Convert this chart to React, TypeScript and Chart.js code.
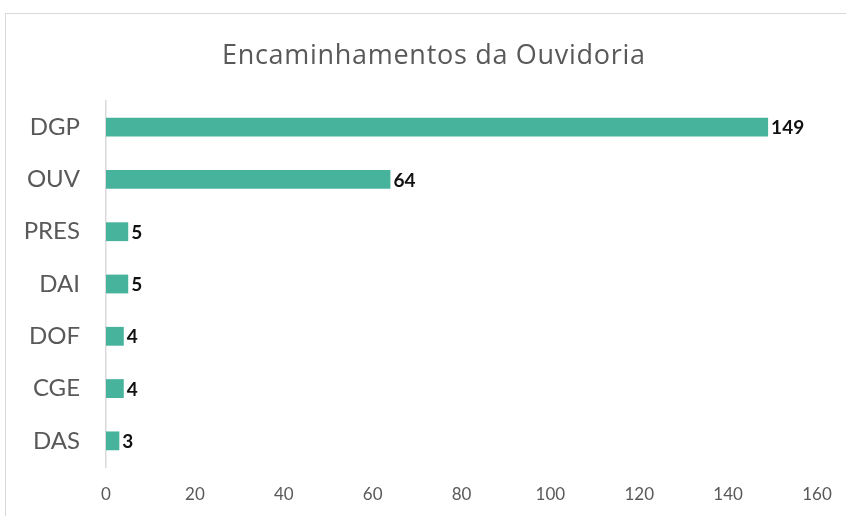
import React, { useEffect, useRef } from "react";
import { Chart, registerables } from "chart.js";

Chart.register(...registerables);

const categories = ["DGP", "OUV", "PRES", "DAI", "DOF", "CGE", "DAS"];
const values = [149, 64, 5, 5, 4, 4, 3];
const xTicks = [0, 20, 40, 60, 80, 100, 120, 140, 160];
const titleText = "Encaminhamentos da Ouvidoria";

const FONT = "Lato, 'Open Sans', sans-serif";
const TITLE_FONT = "'Open Sans', Lato, sans-serif";

const labelPlugin = {
  id: "barLabels",
  afterDatasetsDraw(chart: any) {
    const ctx = chart.ctx;
    const meta = chart.getDatasetMeta(0);
    ctx.save();
    ctx.font = `bold 19px ${FONT}`;
    ctx.fillStyle = "#111";
    ctx.textAlign = "left";
    ctx.textBaseline = "middle";
    meta.data.forEach((el: any, i: number) => {
      ctx.fillText(String(values[i]), el.x + 3, el.y + 1);
    });
    ctx.restore();
  },
};

const titlePlugin = {
  id: "customTitle",
  afterDraw(chart: any) {
    const ctx = chart.ctx;
    ctx.save();
    ctx.font = `27px ${TITLE_FONT}`;
    ctx.fillStyle = "#595959";
    ctx.textBaseline = "alphabetic";
    ctx.textAlign = "left";
    const targetWidth = 423;
    const w = ctx.measureText(titleText).width;
    const spacing = Math.max(0, (targetWidth - w) / (titleText.length - 1));
    (ctx as any).letterSpacing = `${spacing}px`;
    const realW = w + spacing * (titleText.length - 1);
    ctx.fillText(titleText, 433.5 - realW / 2, 64);
    ctx.restore();
  },
};

export default function App() {
  const ref = useRef<HTMLCanvasElement | null>(null);
  useEffect(() => {
    if (!ref.current) return;
    const chart = new Chart(ref.current, {
      type: "bar",
      data: {
        labels: categories,
        datasets: [
          {
            data: values,
            backgroundColor: "#48b39c",
            borderWidth: 0,
            categoryPercentage: 1,
            barPercentage: 0.36,
          },
        ],
      },
      options: {
        indexAxis: "y",
        animation: false,
        responsive: false,
        maintainAspectRatio: false,
        layout: { padding: { left: 0, right: 29, top: 101, bottom: 0 } },
        plugins: {
          legend: { display: false },
          tooltip: { enabled: false },
          title: { display: false },
        },
        scales: {
          x: {
            min: 0,
            max: 160,
            afterBuildTicks: (scale: any) => {
              scale.ticks = xTicks.map((v) => ({ value: v }));
            },
            afterFit: (scale: any) => {
              scale.height = 49;
              scale.paddingLeft = 0;
              scale.paddingRight = 0;
            },
            grid: { display: false, drawTicks: false },
            border: { display: false },
            ticks: {
              color: "#595959",
              font: { family: FONT, size: 17 },
              padding: 17,
              maxRotation: 0,
            },
          },
          y: {
            afterFit: (scale: any) => {
              scale.width = 106;
              scale.paddingTop = 0;
              scale.paddingBottom = 0;
            },
            grid: { color: "transparent", drawTicks: false },
            border: { display: true, color: "#d9d9d9", width: 1.5 },
            ticks: {
              color: "#595959",
              font: { family: FONT, size: 24 },
              padding: 26,
            },
          },
        },
      },
      plugins: [labelPlugin, titlePlugin],
    });
    return () => chart.destroy();
  }, []);

  return (
    <div style={{ position: "fixed", left: 0, top: 0, width: 846, height: 516, background: "#fff", overflow: "hidden" }}>
      <div
        style={{
          position: "absolute",
          left: 5,
          top: 13,
          width: 900,
          height: 600,
          borderLeft: "1.5px solid #d9d9d9",
          borderTop: "1.5px solid #d9d9d9",
        }}
      />
      <canvas ref={ref} width={846} height={516} style={{ position: "absolute", left: 0, top: 0 }} />
    </div>
  );
}
